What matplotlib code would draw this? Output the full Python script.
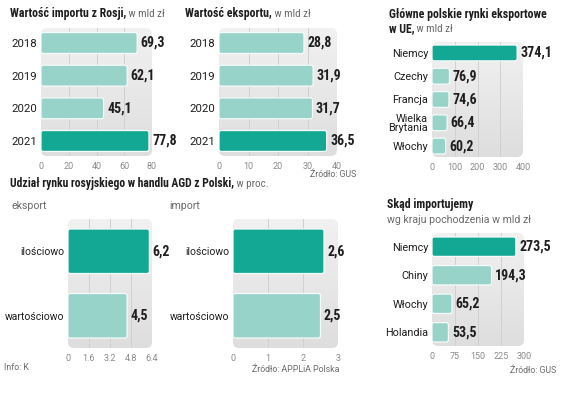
"""Polish-Russian trade figures: small multiples of horizontal bars."""

import matplotlib

matplotlib.use("Agg")
import matplotlib.pyplot as plt
import numpy as np
from matplotlib import font_manager
from matplotlib.colors import LinearSegmentedColormap
from matplotlib.font_manager import FontProperties
from matplotlib.patches import FancyBboxPatch

W, H = 564, 399

import_years = ["2018", "2019", "2020", "2021"]
import_values = [69.3, 62.1, 45.1, 77.8]
import_ticks = [0, 20, 40, 60, 80]

export_years = ["2018", "2019", "2020", "2021"]
export_values = [28.8, 31.9, 31.7, 36.5]
export_ticks = [0, 10, 20, 30, 40]

eu_markets = ["Niemcy", "Czechy", "Francja", "Wielka\nBrytania", "Włochy"]
eu_market_values = [374.1, 76.9, 74.6, 66.4, 60.2]
eu_ticks = [0, 100, 200, 300, 400]

agd_measures = ["ilościowo", "wartościowo"]
agd_export_share = [6.2, 4.5]
agd_export_ticks = [0, 1.6, 3.2, 4.8, 6.4]
agd_import_share = [2.6, 2.5]
agd_import_ticks = [0, 1, 2, 3]

import_origins = ["Niemcy", "Chiny", "Włochy", "Holandia"]
import_origin_values = [273.5, 194.3, 65.2, 53.5]
origin_ticks = [0, 75, 150, 225, 300]

DARK = "#13a894"
LIGHT = "#98d3ca"
GRID = "#d0d0d0"
INK = "#1e1e1e"
GRAY = "#6a6a6a"
BG_CMAP = LinearSegmentedColormap.from_list("bg", ["#f1f1f1", "#dedede"])


def pick_font(*names):
    for name in names:
        try:
            font_manager.findfont(FontProperties(family=name), fallback_to_default=False)
            return name
        except Exception:
            continue
    return "DejaVu Sans"


COND = pick_font("Liberation Sans Narrow", "DejaVu Sans Condensed", "Roboto Condensed", "Roboto")
REG = pick_font("Roboto", "Noto Sans", "DejaVu Sans")

fig = plt.figure(figsize=(W / 100, H / 100), dpi=100)
fig.patch.set_facecolor("white")
renderer = fig.canvas.get_renderer()


def fx(px):
    return px / W


def fy(py):
    return 1 - py / H


def panel(box, labels, values, ticks, highlight, bar_h=0.66, margin=0.47,
          tick_labels=None, label_size=7.8):
    left, top, right, bottom = box
    w_px, h_px = right - left, bottom - top
    ax = fig.add_axes([fx(left), fy(bottom), w_px / W, h_px / H])
    n = len(values)
    xlim = (ticks[0], ticks[-1])
    ylim = (n - 1 + margin, -margin)

    # rounded grey backdrop with a soft vertical gradient
    ax.patch.set_visible(False)
    backdrop = FancyBboxPatch((0, 0), 1, 1, boxstyle=f"round,pad=0,rounding_size={6 / w_px}",
                              mutation_aspect=w_px / h_px, transform=ax.transAxes,
                              facecolor="none", edgecolor="none", zorder=0)
    ax.add_patch(backdrop)
    grad = np.linspace(0, 1, 64).reshape(-1, 1)
    im = ax.imshow(grad, cmap=BG_CMAP, aspect="auto", zorder=0,
                   extent=(xlim[0], xlim[1], ylim[0], ylim[1]), origin="upper")
    im.set_clip_path(backdrop)
    for t in ticks[1:-1]:
        ax.axvline(t, color=GRID, lw=0.7, zorder=1)

    colors = [DARK if i == highlight else LIGHT for i in range(n)]
    bars = ax.barh(range(n), values, height=bar_h, color=colors, zorder=3)
    # swap the square bars for rounded ones of the same size
    sx = (xlim[1] - xlim[0]) / w_px
    sy = (ylim[0] - ylim[1]) / h_px
    for rect, c in zip(bars, colors):
        rect.set_visible(False)
        ax.add_patch(FancyBboxPatch((rect.get_x(), rect.get_y()), rect.get_width(), rect.get_height(),
                                    boxstyle=f"round,pad=0,rounding_size={2.2 * sx}",
                                    mutation_aspect=sy / sx, facecolor=c, edgecolor="#f4fbfa",
                                    linewidth=0.9, zorder=3))
    ax.set_xlim(*xlim)
    ax.set_ylim(*ylim)

    for s in ax.spines.values():
        s.set_visible(False)
    ax.set_xticks(ticks)
    ax.set_xticklabels(tick_labels or [str(t) for t in ticks])
    ax.set_yticks(range(n))
    ax.set_yticklabels(labels, linespacing=0.95)
    ax.tick_params(axis="x", length=0, pad=4.5, labelsize=6.5, labelcolor="#8a8a8a")
    ax.tick_params(axis="y", length=0, pad=2.8, labelsize=label_size, labelcolor=INK)
    for lab in ax.get_xticklabels() + ax.get_yticklabels():
        lab.set_family(REG)

    for i, v in enumerate(values):
        ax.annotate(f"{v:.1f}".replace(".", ","), xy=(v, i), xytext=(2.5, 0),
                    textcoords="offset points", va="center", ha="left",
                    fontsize=10, fontweight="bold", family=COND, color=INK)
    return ax


def title(x, y, bold, rest="", size=8.6, rest_size=8.0, rest_color=GRAY):
    t = fig.text(fx(x), fy(y), bold, fontsize=size, fontweight="bold", family=COND,
                 color=INK, va="baseline")
    if rest:
        bb = t.get_window_extent(renderer=renderer)
        fig.text(bb.x1 / fig.bbox.width, fy(y), rest, fontsize=rest_size, family=COND,
                 color=rest_color, va="baseline")


def note(x, y, text, ha="left", size=6.3):
    fig.text(fx(x), fy(y), text, fontsize=size, family=REG, color=GRAY, ha=ha, va="baseline")


panel((41, 28, 152, 156), import_years, import_values, import_ticks, 3, bar_h=0.64,
      margin=0.46, label_size=8.2)
panel((219, 28, 337, 156), export_years, export_values, export_ticks, 3, bar_h=0.64,
      margin=0.46, label_size=8.2)
panel((432, 42, 523, 157), eu_markets, eu_market_values, eu_ticks, 0, bar_h=0.68, margin=0.47)
panel((68, 219, 152, 348), agd_measures, agd_export_share, agd_export_ticks, 0, bar_h=0.69,
      margin=0.5, tick_labels=["0", "1.6", "3.2", "4.8", "6.4"], label_size=7.5)
panel((233, 219, 338, 348), agd_measures, agd_import_share, agd_import_ticks, 0, bar_h=0.69,
      margin=0.5, label_size=7.5)
panel((432, 233, 524, 346), import_origins, import_origin_values, origin_ticks, 0, bar_h=0.68,
      margin=0.48)

title(10, 17, "Wartość importu z Rosji,", " w mld zł")
title(185, 17, "Wartość eksportu,", " w mld zł")
title(389, 18, "Główne polskie rynki eksportowe")
title(389, 32, "w UE,", " w mld zł")
title(10, 187, "Udział rynku rosyjskiego w handlu AGD z Polski,", " w proc.", size=8.4)
title(387, 208, "Skąd importujemy")
fig.text(fx(387), fy(223), "wg kraju pochodzenia w mld zł", fontsize=7.6, family=REG,
         color=GRAY, va="baseline")

fig.text(fx(12), fy(209), "eksport", fontsize=7.6, family=REG, color=GRAY, va="baseline")
fig.text(fx(169), fy(209), "import", fontsize=7.6, family=REG, color=GRAY, va="baseline")

note(356, 177, "Źródło: GUS", ha="right")
note(4, 370, "Info: K")
note(339, 372, "Źródło: APPLiA Polska", ha="right")
note(556, 373, "Źródło: GUS", ha="right")

fig.savefig("out.png", dpi=100)
plt.close(fig)
